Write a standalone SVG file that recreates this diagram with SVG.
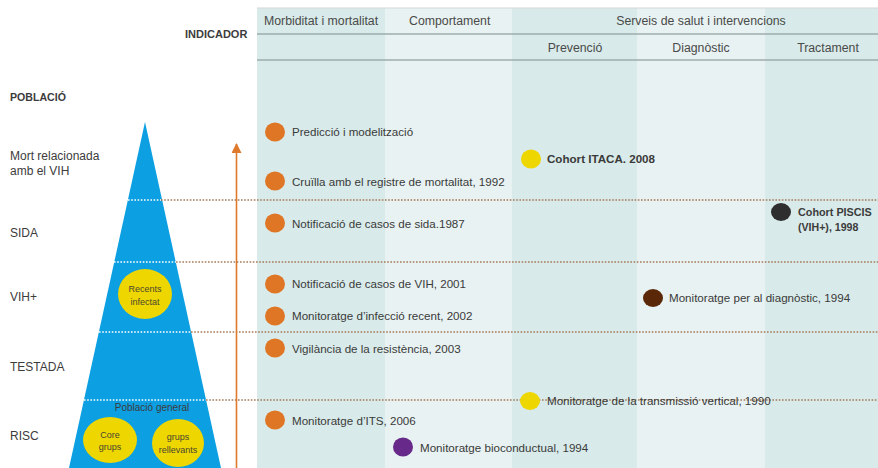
<svg xmlns="http://www.w3.org/2000/svg" width="878" height="468" viewBox="0 0 878 468">
  <defs>
    <style>
      text { font-family: "Liberation Sans", Arial, sans-serif; fill: #3c3c3c; }
      .hdr { font-size: 12.3px; fill: #4a4a4a; }
      .lbl { font-size: 12px; fill: #3c3c3c; }
      .bold { font-weight: bold; }
      .item { font-size: 11.6px; fill: #3a3a3a; }
      .colA { fill: #d8eae9; }
      .colB { fill: #e8f2f2; }
      .rule { stroke: #9eacac; stroke-width: 1.5; }
      .dotB { stroke: #a57a58; stroke-width: 1.6; stroke-dasharray: 1.6 1.6; fill: none; }
      .dotW { stroke: #ffffff; stroke-width: 1.6; stroke-dasharray: 1.6 1.6; fill: none; }
      .orange { fill: #df7625; }
      .yellow { fill: #eed600; }
      .pyr { font-size: 9px; fill: #4a4630; text-anchor: middle; }
    </style>
    <marker id="arrowHead" viewBox="0 0 10 10" refX="9" refY="5" markerWidth="10" markerHeight="10" markerUnits="userSpaceOnUse" orient="auto">
      <path d="M0,0 L10,5 L0,10 Z" fill="#df7a2c"/>
    </marker>
  </defs>

  <rect width="878" height="468" fill="#ffffff"/>

  <!-- table columns -->
  <g id="columns">
    <rect class="colA" x="257" y="8" width="128" height="460"/>
    <rect class="colB" x="385" y="8" width="127" height="460"/>
    <rect class="colA" x="512" y="8" width="125" height="460"/>
    <rect class="colB" x="637" y="8" width="128" height="460"/>
    <rect class="colA" x="765" y="8" width="113" height="460"/>
    <line x1="257" y1="8" x2="878" y2="8" stroke="#d4d8d8" stroke-width="1.2"/>
    <line class="rule" x1="257" y1="34" x2="878" y2="34"/>
    <line class="rule" x1="257" y1="60" x2="878" y2="60"/>
  </g>

  <!-- column headings -->
  <g id="headers">
    <text class="hdr" x="264" y="25">Morbiditat i mortalitat</text>
    <text class="hdr" x="409" y="25">Comportament</text>
    <text class="hdr" x="701" y="25" text-anchor="middle">Serveis de salut i intervencions</text>
    <text class="hdr" x="575" y="52" text-anchor="middle">Prevenció</text>
    <text class="hdr" x="701" y="52" text-anchor="middle">Diagnòstic</text>
    <text class="hdr" x="828" y="52" text-anchor="middle">Tractament</text>
    <text class="bold" x="185" y="38" font-size="11px" fill="#3a3a3a">INDICADOR</text>
  </g>

  <!-- population levels -->
  <g id="levels">
    <text class="bold" x="10" y="101" font-size="10.6px">POBLACIÓ</text>
    <text class="lbl" x="10" y="160">Mort relacionada</text>
    <text class="lbl" x="10" y="175">amb el VIH</text>
    <text class="lbl" x="10" y="237">SIDA</text>
    <text class="lbl" x="10" y="301">VIH+</text>
    <text class="lbl" x="10" y="371">TESTADA</text>
    <text class="lbl" x="10" y="440">RISC</text>
  </g>

  <!-- population pyramid -->
  <g id="pyramid">
    <polygon points="145,122 221,468 69,468" fill="#0c9fe2"/>
  </g>

  <!-- level separators and trend arrow -->
  <g id="connectors">
    <line class="dotB" x1="161" y1="200" x2="878" y2="200"/>
    <line class="dotW" x1="128" y1="200" x2="161" y2="200"/>
    <line class="dotB" x1="176" y1="262" x2="878" y2="262"/>
    <line class="dotW" x1="114" y1="262" x2="176" y2="262"/>
    <line class="dotB" x1="191" y1="332" x2="878" y2="332"/>
    <line class="dotW" x1="99" y1="332" x2="191" y2="332"/>
    <line class="dotB" x1="206" y1="400" x2="878" y2="400"/>
    <line class="dotW" x1="84" y1="400" x2="206" y2="400"/>
    <line x1="236.5" y1="468" x2="236.5" y2="144" stroke="#df7a2c" stroke-width="1.6" marker-end="url(#arrowHead)"/>
  </g>

  <!-- sub-populations -->
  <g id="recents">
    <ellipse class="yellow" cx="145" cy="294" rx="27" ry="25"/>
    <text class="pyr" x="145" y="292" font-size="8.5px">Recents</text>
    <text class="pyr" x="145" y="305" font-size="10.5px">infectat</text>
  </g>
  <g id="poblacio-general">
    <text x="152" y="411" font-size="10px" fill="#1d3d78" text-anchor="middle">Població general</text>
  </g>
  <g id="core-grups">
    <ellipse class="yellow" cx="110" cy="440" rx="27" ry="23"/>
    <text class="pyr" x="110" y="438" font-size="11px">Core</text>
    <text class="pyr" x="110" y="450" font-size="8.5px">grups</text>
  </g>
  <g id="grups-rellevants">
    <ellipse class="yellow" cx="178" cy="443" rx="26" ry="24"/>
    <text class="pyr" x="178" y="440" font-size="8.5px">grups</text>
    <text class="pyr" x="178" y="453" font-size="10.8px">rellevants</text>
  </g>

  <!-- indicators -->
  <g id="prediccio">
    <ellipse class="orange" cx="275" cy="132" rx="10" ry="9.5"/>
    <text class="item" x="292" y="136">Predicció i modelització</text>
  </g>
  <g id="cruilla">
    <ellipse class="orange" cx="275" cy="181" rx="10" ry="9.5"/>
    <text class="item" x="292" y="186">Cruïlla amb el registre de mortalitat, 1992</text>
  </g>
  <g id="itaca">
    <ellipse class="yellow" cx="531" cy="159" rx="10" ry="9.5"/>
    <text class="item bold" x="547" y="163">Cohort ITACA. 2008</text>
  </g>
  <g id="sida">
    <ellipse class="orange" cx="275" cy="223" rx="10" ry="9.5"/>
    <text class="item" x="292" y="228">Notificació de casos de sida.1987</text>
  </g>
  <g id="piscis">
    <ellipse cx="781" cy="212" rx="10" ry="9" fill="#2e2e2e"/>
    <text class="bold" x="798" y="216" font-size="10.8px">Cohort PISCIS</text>
    <text class="bold" x="798" y="231" font-size="10.6px">(VIH+), 1998</text>
  </g>
  <g id="vih">
    <ellipse class="orange" cx="275" cy="284" rx="10" ry="9.5"/>
    <text class="item" x="292" y="288">Notificació de casos de VIH, 2001</text>
  </g>
  <g id="infeccio">
    <ellipse class="orange" cx="275" cy="316" rx="10" ry="9.5"/>
    <text class="item" x="292" y="320">Monitoratge d’infecció recent, 2002</text>
  </g>
  <g id="diagnostic">
    <ellipse cx="653" cy="298" rx="10" ry="9" fill="#5a2808"/>
    <text class="item" x="669" y="302">Monitoratge per al diagnòstic, 1994</text>
  </g>
  <g id="resistencia">
    <ellipse class="orange" cx="275" cy="348" rx="10" ry="9.5"/>
    <text class="item" x="292" y="353">Vigilància de la resistència, 2003</text>
  </g>
  <g id="transmissio">
    <ellipse class="yellow" cx="530" cy="401" rx="10" ry="9"/>
    <text class="item" x="547" y="405">Monitoratge de la transmissió vertical, 1990</text>
  </g>
  <g id="its">
    <ellipse class="orange" cx="275" cy="420" rx="10" ry="9.5"/>
    <text class="item" x="292" y="425">Monitoratge d’ITS, 2006</text>
  </g>
  <g id="bioconductual">
    <ellipse cx="403" cy="447" rx="10" ry="9.5" fill="#682a8a"/>
    <text class="item" x="420" y="452">Monitoratge bioconductual, 1994</text>
  </g>
</svg>
